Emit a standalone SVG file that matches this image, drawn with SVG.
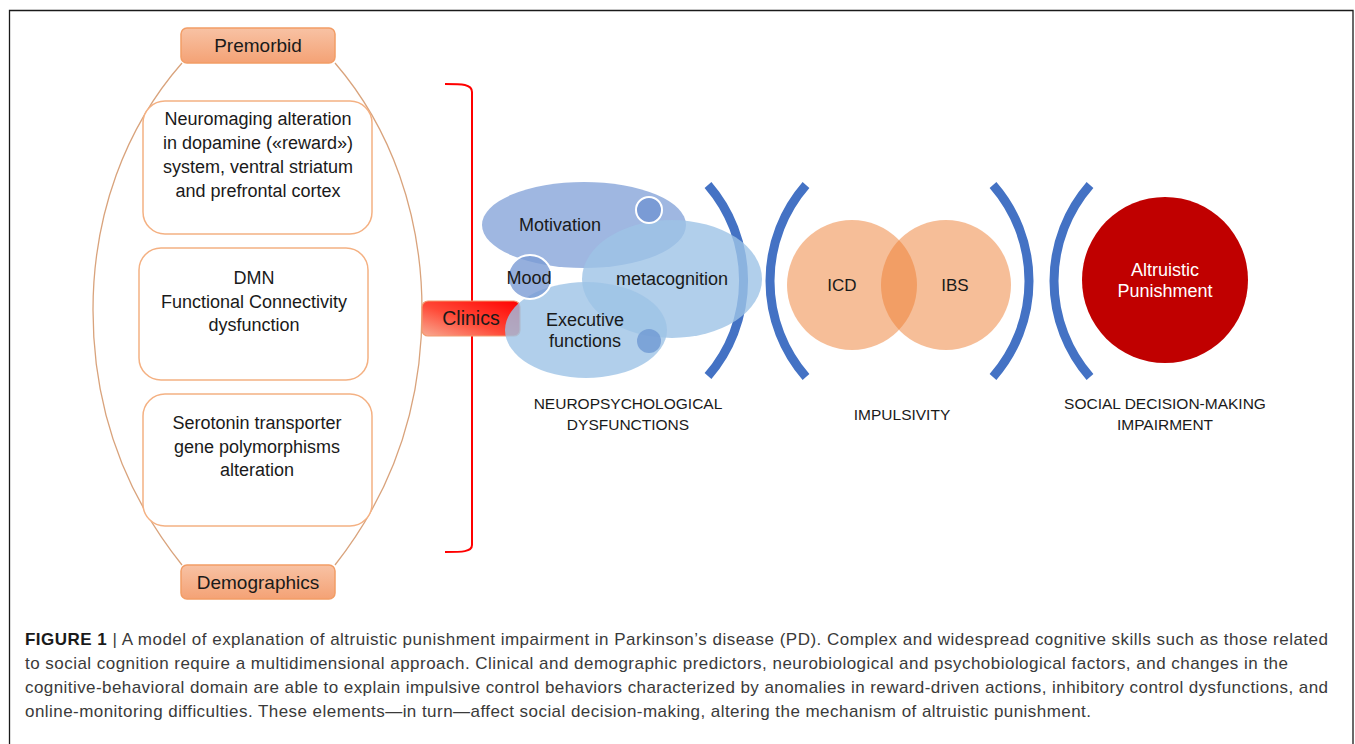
<svg xmlns="http://www.w3.org/2000/svg" width="1355" height="744" viewBox="0 0 1355 744">
<defs>
<linearGradient id="gOrange" x1="0" y1="0" x2="0" y2="1">
<stop offset="0" stop-color="#f8c2a4"/>
<stop offset="1" stop-color="#f4a275"/>
</linearGradient>
<linearGradient id="gRed" x1="0" y1="1" x2="1" y2="0">
<stop offset="0" stop-color="#f8ab92"/>
<stop offset="0.45" stop-color="#ff4a38"/>
<stop offset="1" stop-color="#ff0000"/>
</linearGradient>
<style>
.t{font-family:"Liberation Sans",Arial,sans-serif;fill:#1a1a1a;text-anchor:middle}
.box{fill:#fff;stroke:#f4b183;stroke-width:1.5}
.hdr{fill:url(#gOrange);stroke:#f29d66;stroke-width:1.5}
.arc{fill:none;stroke:#4472c4;stroke-width:9}
.cap{font-family:"Liberation Sans",Arial,Helvetica,sans-serif;font-size:17px;fill:#3a3a3a}
.small{fill:#7a9bd5;stroke:#fff;stroke-width:2}
</style>
</defs>
<rect width="1355" height="744" fill="#fff"/>
<path d="M9.5,744 V10.5 H1353 V744" fill="none" stroke="#1a1a1a" stroke-width="1.3"/>

<g id="connectors">
<path d="M182,63 C125,128 93,215 93,310 C93,410 126,495 182,565" fill="none" stroke="#d9a37c" stroke-width="1.3"/>
<path d="M335,63 C391,128 422,215 422,310 C422,410 390,495 335,565" fill="none" stroke="#d9a37c" stroke-width="1.3"/>
<path d="M445,84 C462,84 472,84 472,92 V545 C472,552 462,552 445,552" fill="none" stroke="#ff0000" stroke-width="2"/>
<path class="arc" d="M708,185 A146,146 0 0 1 708,376"/>
<path class="arc" d="M806,185 A146,146 0 0 0 806,377"/>
<path class="arc" d="M993,185 A146,146 0 0 1 993,377"/>
<path class="arc" d="M1090,185 A146,146 0 0 0 1090,377"/>
</g>

<g id="premorbid">
<rect class="hdr" x="181" y="28" width="154" height="35" rx="6"/>
<text class="t" x="258" y="52" font-size="19">Premorbid</text>
</g>
<g id="demographics">
<rect class="hdr" x="181" y="565" width="154" height="34" rx="6"/>
<text class="t" x="258" y="589" font-size="19">Demographics</text>
</g>

<g id="neuroimaging">
<rect class="box" x="143" y="101" width="229" height="133" rx="22"/>
<text class="t" font-size="18"><tspan x="258" y="125">Neuromaging alteration</tspan><tspan x="258" y="149">in dopamine («reward»)</tspan><tspan x="258" y="173">system, ventral striatum</tspan><tspan x="258" y="197">and prefrontal cortex</tspan></text>
</g>
<g id="dmn">
<rect class="box" x="139" y="248" width="229" height="132" rx="22"/>
<text class="t" font-size="18"><tspan x="254" y="284">DMN</tspan><tspan x="254" y="308">Functional Connectivity</tspan><tspan x="254" y="331">dysfunction</tspan></text>
</g>
<g id="serotonin">
<rect class="box" x="143" y="394" width="229" height="132" rx="22"/>
<text class="t" font-size="18"><tspan x="257" y="429">Serotonin transporter</tspan><tspan x="257" y="453">gene polymorphisms</tspan><tspan x="257" y="476">alteration</tspan></text>
</g>

<g id="clinics">
<rect x="422" y="301" width="98" height="35" rx="6" fill="url(#gRed)" stroke="#f39a6e" stroke-width="1.2"/>
<text class="t" x="471" y="325" font-size="19.5">Clinics</text>
</g>

<g id="neuropsych">
<ellipse cx="584" cy="225" rx="102" ry="43" fill="#8eaadc" fill-opacity="0.85"/>
<ellipse cx="672" cy="279" rx="90" ry="59" fill="#9dc3e6" fill-opacity="0.8"/>
<ellipse cx="586" cy="330" rx="81" ry="48" fill="#9dc3e6" fill-opacity="0.8"/>
<circle cx="530" cy="277" r="22" fill="#7a9bd5" fill-opacity="0.8" stroke="#fff" stroke-width="2"/>
<circle class="small" cx="649" cy="210" r="13"/>
<circle cx="649" cy="341" r="12" fill="#6f98d3" fill-opacity="0.8"/>
<text class="t" x="560" y="231" font-size="18">Motivation</text>
<text class="t" x="529" y="284" font-size="18">Mood</text>
<text class="t" x="672" y="285" font-size="18">metacognition</text>
<text class="t" font-size="18"><tspan x="585" y="326">Executive</tspan><tspan x="585" y="347">functions</tspan></text>
<text class="t" font-size="15.5"><tspan x="628" y="409">NEUROPSYCHOLOGICAL</tspan><tspan x="628" y="430">DYSFUNCTIONS</tspan></text>
</g>

<g id="impulsivity">
<circle cx="852" cy="285" r="65" fill="#ed7d31" fill-opacity="0.5"/>
<circle cx="946" cy="285" r="65" fill="#ed7d31" fill-opacity="0.5"/>
<text class="t" x="842" y="291" font-size="17">ICD</text>
<text class="t" x="955" y="291" font-size="17">IBS</text>
<text class="t" x="902" y="420" font-size="15.5">IMPULSIVITY</text>
</g>

<g id="social">
<circle cx="1165" cy="280" r="83" fill="#c00000"/>
<text class="t" font-size="18" style="fill:#fff"><tspan x="1165" y="276">Altruistic</tspan><tspan x="1165" y="297">Punishment</tspan></text>
<text class="t" font-size="15.5"><tspan x="1165" y="409">SOCIAL DECISION-MAKING</tspan><tspan x="1165" y="430">IMPAIRMENT</tspan></text>
</g>

<g id="caption">
<text class="cap" x="25" y="645" textLength="1303" lengthAdjust="spacing"><tspan font-weight="bold" fill="#1a1a1a">FIGURE 1</tspan> | A model of explanation of altruistic punishment impairment in Parkinson’s disease (PD). Complex and widespread cognitive skills such as those related</text>
<text class="cap" x="25" y="669" textLength="1263" lengthAdjust="spacing">to social cognition require a multidimensional approach. Clinical and demographic predictors, neurobiological and psychobiological factors, and changes in the</text>
<text class="cap" x="25" y="693" textLength="1303" lengthAdjust="spacing">cognitive-behavioral domain are able to explain impulsive control behaviors characterized by anomalies in reward-driven actions, inhibitory control dysfunctions, and</text>
<text class="cap" x="25" y="717" textLength="1066" lengthAdjust="spacing">online-monitoring difficulties. These elements—in turn—affect social decision-making, altering the mechanism of altruistic punishment.</text>
</g>
</svg>
